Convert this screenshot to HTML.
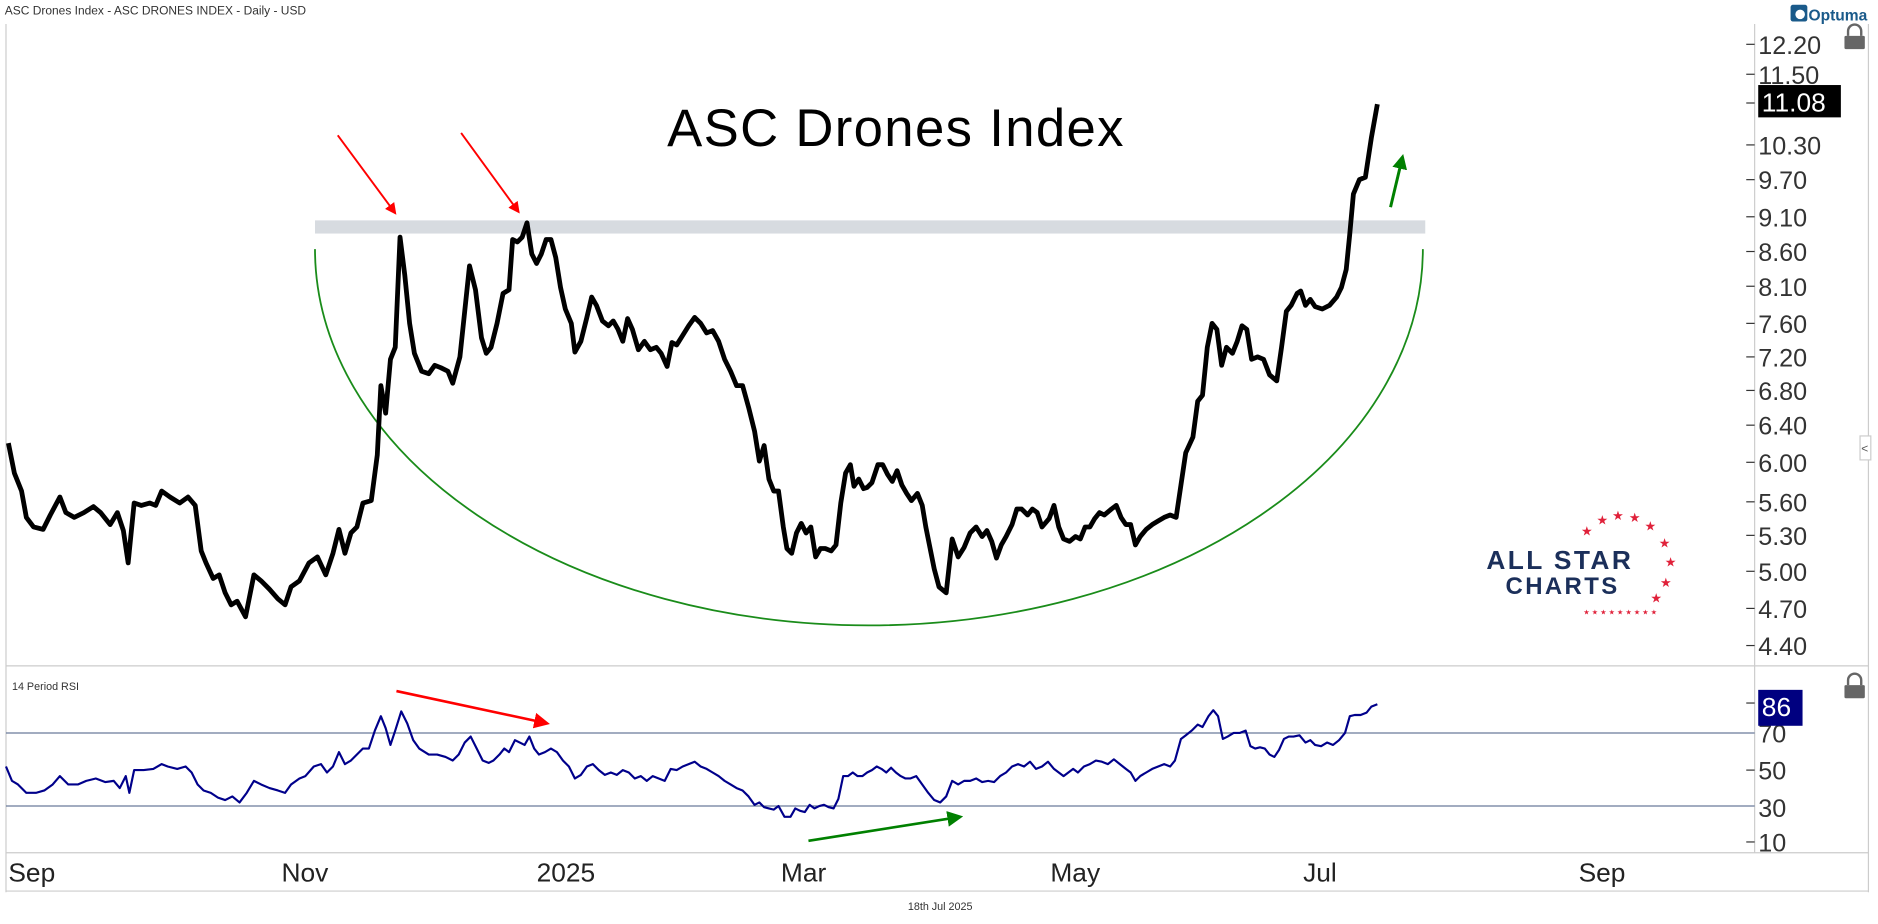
<!DOCTYPE html>
<html><head><meta charset="utf-8"><style>
html,body{margin:0;padding:0;background:#fff;}
svg{display:block;}
text{font-family:"Liberation Sans",sans-serif;}
</style></head><body>
<svg width="1878" height="924" viewBox="0 0 1568 771.5" preserveAspectRatio="none" xmlns="http://www.w3.org/2000/svg">
<defs>
<marker id="ar" markerWidth="6" markerHeight="6" refX="5" refY="3" orient="auto" markerUnits="strokeWidth"><path d="M0,0 L6,3 L0,6 z" fill="#ff0000"/></marker>
<marker id="ag" markerWidth="5" markerHeight="5" refX="4" refY="2.5" orient="auto" markerUnits="strokeWidth"><path d="M0,0 L5,2.5 L0,5 z" fill="#008000"/></marker>
<marker id="ag2" markerWidth="6" markerHeight="6" refX="5" refY="3" orient="auto" markerUnits="strokeWidth"><path d="M0,0 L6,3 L0,6 z" fill="#008000"/></marker>
</defs>
<rect width="1568" height="771.5" fill="#fff"/>
<text x="4" y="12" font-size="10" fill="#333">ASC Drones Index - ASC DRONES INDEX - Daily - USD</text>
<rect x="1495" y="4" width="14" height="14" rx="2" fill="#1a5a8a"/>
<circle cx="1503" cy="12" r="4" fill="#fff"/>
<text x="1510" y="17" font-size="13" font-weight="bold" fill="#1a5a8a">Optuma</text>
<line x1="5" y1="20" x2="5" y2="745" stroke="#ccc"/>
<line x1="1465" y1="20" x2="1465" y2="712" stroke="#ccc"/>
<line x1="1560" y1="20" x2="1560" y2="745" stroke="#ccc"/>
<line x1="5" y1="556" x2="1560" y2="556" stroke="#ccc"/>
<line x1="5" y1="712" x2="1560" y2="712" stroke="#ccc"/>
<line x1="5" y1="744" x2="1560" y2="744" stroke="#ccc"/>
<g fill="#666"><rect x="1540" y="30" width="17" height="11" rx="1"/><path d="M1543,30 v-4 a5,5 0 0 1 11,0 v4" fill="none" stroke="#666" stroke-width="2"/>
<rect x="1540" y="572" width="17" height="11" rx="1"/><path d="M1543,572 v-4 a5,5 0 0 1 11,0 v4" fill="none" stroke="#666" stroke-width="2"/></g>
<rect x="1553" y="364" width="9" height="20" fill="#fff" stroke="#ccc"/><text x="1554" y="378" font-size="10" fill="#555">&lt;</text>
<g font-size="21" fill="#333">
<g stroke="#333"><line x1="1458" y1="37" x2="1465" y2="37"/><line x1="1458" y1="62" x2="1465" y2="62"/><line x1="1458" y1="86" x2="1465" y2="86"/><line x1="1458" y1="121" x2="1465" y2="121"/><line x1="1458" y1="150" x2="1465" y2="150"/><line x1="1458" y1="181" x2="1465" y2="181"/><line x1="1458" y1="210" x2="1465" y2="210"/><line x1="1458" y1="239" x2="1465" y2="239"/><line x1="1458" y1="270" x2="1465" y2="270"/><line x1="1458" y1="298" x2="1465" y2="298"/><line x1="1458" y1="326" x2="1465" y2="326"/><line x1="1458" y1="355" x2="1465" y2="355"/><line x1="1458" y1="386" x2="1465" y2="386"/><line x1="1458" y1="419" x2="1465" y2="419"/><line x1="1458" y1="447" x2="1465" y2="447"/><line x1="1458" y1="477" x2="1465" y2="477"/><line x1="1458" y1="508" x2="1465" y2="508"/><line x1="1458" y1="539" x2="1465" y2="539"/></g>
<text x="1468" y="45">12.20</text><text x="1468" y="70">11.50</text><text x="1468" y="129">10.30</text><text x="1468" y="158">9.70</text><text x="1468" y="189">9.10</text><text x="1468" y="218">8.60</text><text x="1468" y="247">8.10</text><text x="1468" y="278">7.60</text><text x="1468" y="306">7.20</text><text x="1468" y="334">6.80</text><text x="1468" y="363">6.40</text><text x="1468" y="394">6.00</text><text x="1468" y="427">5.60</text><text x="1468" y="455">5.30</text><text x="1468" y="485">5.00</text><text x="1468" y="516">4.70</text><text x="1468" y="547">4.40</text>
</g>
<rect x="1468" y="71" width="69" height="27" fill="#000"/>
<text x="1471" y="93" font-size="22" fill="#fff">11.08</text>
<g font-size="21" fill="#333">
<g stroke="#333"><line x1="1458" y1="587" x2="1465" y2="587"/><line x1="1458" y1="643" x2="1465" y2="643"/><line x1="1458" y1="703" x2="1465" y2="703"/></g>
<text x="1468" y="620">70</text><text x="1468" y="651">50</text><text x="1468" y="682">30</text><text x="1468" y="711">10</text>
</g>
<rect x="1468" y="576" width="37" height="30" fill="#000080"/>
<text x="1471" y="598" font-size="22" fill="#fff">86</text>
<line x1="5" y1="612" x2="1465" y2="612" stroke="#6a7a9a" stroke-width="1"/>
<line x1="5" y1="673" x2="1465" y2="673" stroke="#6a7a9a" stroke-width="1"/>
<text x="10" y="576" font-size="9" fill="#333">14 Period RSI</text>
<g font-size="22" fill="#222">
<text x="7" y="736">Sep</text><text x="235" y="736">Nov</text><text x="448" y="736">2025</text><text x="652" y="736">Mar</text><text x="877" y="736">May</text><text x="1088" y="736">Jul</text><text x="1318" y="736">Sep</text>
</g>
<text x="758" y="760" font-size="9" fill="#333">18th Jul 2025</text>
<text x="557" y="122" font-size="44" fill="#000" textLength="381">ASC Drones Index</text>
<rect x="263" y="184" width="927" height="11" fill="#d0d5db" opacity="0.85"/>
<path d="M263,208 A462,314 0 0 0 1188,208" fill="none" stroke="#1a8c1a" stroke-width="1.5"/>
<polyline fill="none" stroke="#000" stroke-width="4" stroke-linejoin="round" points="7,370 12,395 18,410 22,432 28,440 36,442 42,430 50,415 55,428 62,432 70,428 78,423 84,428 92,438 98,428 103,443 107,470 112,420 118,422 125,420 130,422 135,410 142,415 150,420 157,415 163,422 168,460 172,470 178,483 183,480 188,495 193,505 198,502 205,515 212,480 218,485 225,492 232,500 238,505 243,490 250,485 258,470 265,465 272,480 278,462 283,442 288,462 293,445 298,440 303,420 310,418 315,380 318,322 322,345 326,300 330,290 334,198 338,230 342,270 346,295 352,310 358,312 363,305 368,307 374,310 378,320 384,298 388,260 392,222 397,242 402,282 406,295 410,290 415,270 420,245 425,242 428,200 432,202 436,198 440,186 444,212 448,220 452,212 456,200 460,200 464,215 468,240 472,258 477,270 480,294 485,285 490,265 494,248 498,255 503,268 508,272 512,268 516,275 520,285 524,266 528,275 533,292 538,285 543,292 548,290 552,295 557,306 561,286 565,288 570,280 575,272 580,265 585,270 590,278 595,276 600,285 605,300 610,310 615,322 620,322 625,340 630,360 634,385 638,372 642,400 646,410 650,410 654,440 657,458 661,462 665,445 669,437 673,445 677,440 681,465 685,458 689,458 694,460 698,455 702,420 706,395 710,388 713,406 717,400 721,408 724,407 728,403 733,388 737,388 741,396 745,402 749,393 753,405 757,412 761,418 766,412 770,422 773,440 776,455 780,475 784,490 790,495 795,450 800,465 805,457 810,445 815,440 820,448 824,443 828,452 832,466 836,455 840,448 845,438 849,425 853,425 858,430 862,425 866,428 870,440 876,433 880,422 884,440 888,450 893,452 898,448 902,450 906,440 910,440 914,433 918,428 922,430 928,425 932,422 936,432 940,438 944,438 948,455 952,448 957,442 962,438 967,435 972,432 977,430 982,432 986,405 990,378 996,365 1000,335 1004,330 1008,290 1012,270 1016,275 1020,305 1024,290 1029,295 1033,285 1037,272 1041,275 1045,300 1050,298 1055,300 1060,313 1066,318 1070,290 1074,260 1078,255 1083,245 1086,243 1090,255 1094,250 1098,256 1104,258 1110,255 1116,248 1120,240 1124,225 1127,195 1130,162 1135,150 1140,148 1145,115 1150,87"/>
<polyline fill="none" stroke="#00008b" stroke-width="1.8" stroke-linejoin="round" points="5,640 10,652 15,655 22,662 30,662 37,660 44,655 50,648 57,655 65,655 72,652 80,650 88,653 95,652 100,658 105,648 108,662 112,643 120,643 128,642 135,638 140,640 148,642 155,640 160,645 165,655 170,660 176,662 182,666 188,668 194,665 200,670 206,662 212,652 218,655 225,658 232,660 238,662 243,655 250,650 255,648 262,640 268,638 273,645 278,640 283,628 288,638 293,635 298,630 303,625 308,625 313,610 318,598 322,608 326,622 330,610 335,594 340,604 345,618 350,625 358,630 365,630 372,632 378,635 383,630 388,620 393,615 398,625 403,635 408,637 412,635 417,630 421,625 425,628 430,618 434,620 438,622 442,615 446,625 450,630 455,628 460,625 465,628 470,635 475,640 480,650 485,647 490,640 495,638 500,643 505,647 510,645 515,647 520,643 525,645 530,650 535,648 540,652 545,648 550,650 555,652 560,642 565,643 570,640 575,638 580,636 585,640 590,642 595,645 600,648 605,652 610,655 615,658 620,660 625,665 630,672 634,670 638,674 642,675 646,676 650,673 655,682 660,682 664,675 668,677 672,678 676,672 680,675 684,673 688,672 692,674 696,675 700,667 704,648 708,648 712,645 716,648 720,648 724,645 728,643 732,640 736,642 740,645 744,641 748,645 752,648 756,650 760,650 765,648 770,655 775,662 780,668 785,670 790,665 795,652 800,655 805,652 810,652 815,650 820,653 825,652 830,653 835,648 840,645 845,640 850,638 855,640 860,636 865,642 870,640 875,636 880,642 884,645 888,648 892,645 896,642 900,645 905,640 910,638 915,635 920,636 925,638 930,634 935,638 940,642 944,645 948,652 952,648 957,645 962,642 967,640 972,638 977,640 981,635 986,617 990,614 995,610 1000,605 1004,607 1009,598 1013,593 1017,598 1021,617 1025,615 1030,612 1035,612 1040,610 1044,623 1048,625 1052,624 1056,625 1060,630 1064,632 1068,626 1072,617 1076,615 1080,615 1085,614 1090,620 1094,618 1098,622 1103,623 1108,620 1113,622 1118,618 1123,612 1127,598 1131,597 1136,597 1141,595 1145,590 1150,588"/>
<line x1="282" y1="113" x2="330" y2="178" stroke="#ff0000" stroke-width="1.6" marker-end="url(#ar)"/>
<line x1="385" y1="111" x2="433" y2="177" stroke="#ff0000" stroke-width="1.6" marker-end="url(#ar)"/>
<line x1="1161" y1="173" x2="1171" y2="131" stroke="#008000" stroke-width="2.5" marker-end="url(#ag)"/>
<line x1="331" y1="577" x2="457" y2="604" stroke="#ff0000" stroke-width="2.2" marker-end="url(#ar)"/>
<line x1="675" y1="702" x2="802" y2="682" stroke="#008000" stroke-width="2.2" marker-end="url(#ag2)"/>
<text x="1241" y="475" font-size="22" font-weight="bold" fill="#1b2f5a" letter-spacing="2">ALL STAR</text>
<text x="1257" y="496" font-size="20" font-weight="bold" fill="#1b2f5a" letter-spacing="2">CHARTS</text>
<g fill="#e0213a" font-size="11">
<text x="1320" y="447">★</text><text x="1333" y="438">★</text><text x="1346" y="434">★</text><text x="1360" y="436">★</text><text x="1373" y="443">★</text><text x="1385" y="457">★</text><text x="1390" y="473">★</text><text x="1386" y="490">★</text><text x="1378" y="503">★</text>
<text x="1322" y="513" font-size="6">★ ★ ★ ★ ★ ★ ★ ★ ★</text>
</g>
</svg>
</body></html>
